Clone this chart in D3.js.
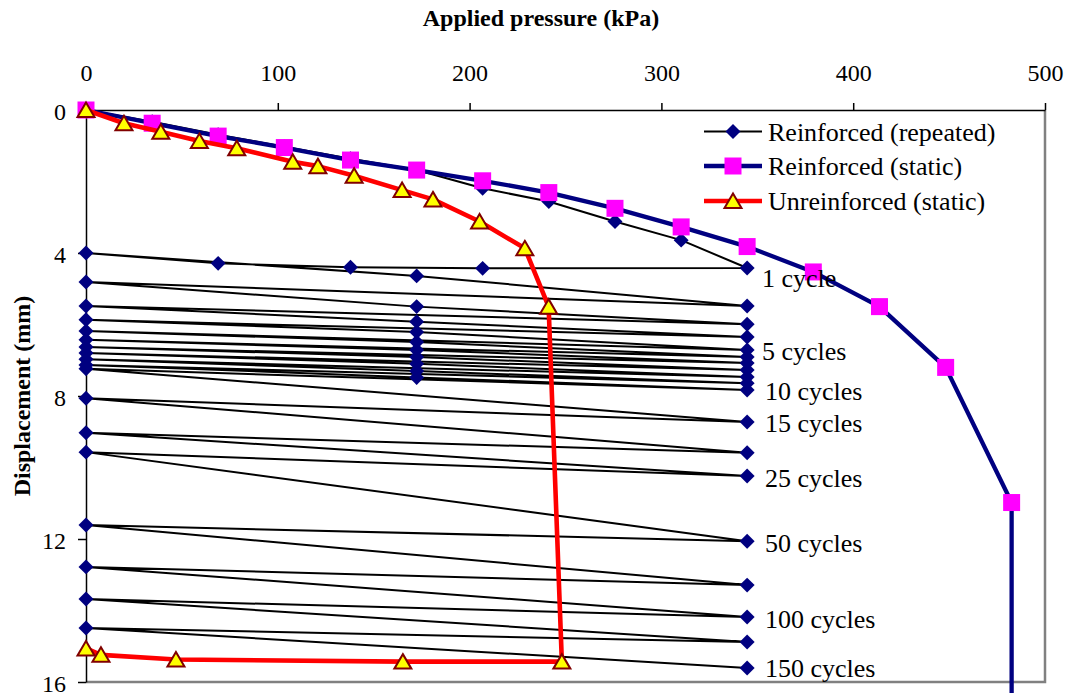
<!DOCTYPE html>
<html>
<head>
<meta charset="utf-8">
<script src="https://cdn.jsdelivr.net/npm/d3@7"></script>
<style>
    body { margin: 0; background: #fff; }
    svg { display: block; }
    svg text { font-family: "Liberation Serif", "Times New Roman", serif; }
</style>
</head>
<body>
<svg id="chart"></svg>
<script>
// ---- data ----
var xTicks = [0, 100, 200, 300, 400, 500];
var yTicks = [0, 4, 8, 12, 16];

// Reinforced (static)
var staticP = [0, 34.5, 68.9, 103.4, 137.9, 172.4, 206.8, 241.3, 275.8, 310.3, 344.7, 379.2, 413.7, 448.2, 482.6, 482.6];
var staticD = [0, 0.37, 0.73, 1.05, 1.40, 1.68, 1.98, 2.31, 2.75, 3.27, 3.82, 4.53, 5.50, 7.20, 10.98, 17];

// Unreinforced (static)
var unreinfP = [0, 19.8, 39.0, 59.1, 78.6, 107.8, 120.9, 139.8, 164.8, 180.9, 205.2, 228.8, 241.2, 248.1, 165.2, 46.9, 7.8, 0];
var unreinfD = [0, 0.37, 0.61, 0.87, 1.07, 1.45, 1.57, 1.84, 2.24, 2.50, 3.12, 3.87, 5.50, 15.43, 15.43, 15.37, 15.24, 15.06];

// Reinforced (repeated): first loading + first unloading
var firstLoadP = [0, 34.5, 68.9, 103.4, 137.9, 172.4, 206.8, 241.3, 275.8, 310.3, 344.7];
var firstLoadD = [0, 0.33, 0.69, 1.03, 1.36, 1.68, 2.19, 2.56, 3.12, 3.64, 4.42];
var firstUnloadP = [206.8, 137.9, 68.9, 0];
var firstUnloadD = [4.43, 4.40, 4.29, 4.00];
// later cycles: reload through mid pressure (early cycles only) to peak, unload to zero
var peakLoad = 344.7;
var midLoad = 172.4;
var cycleMidD = [4.64, 5.50, 5.92, 6.21, 6.49, 6.71, 6.91, 7.10, 7.30, 7.48];
var cyclePeakD = [5.48, 5.99, 6.35, 6.71, 6.91, 7.08, 7.27, 7.47, 7.64, 7.83, 8.73, 9.59, 10.24, 12.06, 13.29, 14.18, 14.88, 15.61];
var residualD = [4.81, 5.48, 5.87, 6.18, 6.43, 6.63, 6.80, 6.97, 7.13, 7.24, 8.06, 9.03, 9.57, 11.61, 12.78, 13.68, 14.49];

// cycle annotations (text and the displacement they sit at)
var cycleLabels = ["1 cycle", "5 cycles", "10 cycles", "15 cycles", "25 cycles", "50 cycles", "100 cycles", "150 cycles"];
var cycleLabelD = [4.96, 6.99, 8.11, 9.00, 10.54, 12.36, 14.48, 15.85];

var seriesNames = ["Reinforced (repeated)", "Reinforced (static)", "Unreinforced (static)"];

// ---- build point lists ----
function zipPts(p, d) {
    return p.map(function (v, i) { return {p: v, d: d[i]}; });
}
var staticPts = zipPts(staticP, staticD);
var unreinfPts = zipPts(unreinfP, unreinfD);
var repeatedPts = zipPts(firstLoadP, firstLoadD).concat(zipPts(firstUnloadP, firstUnloadD));
cyclePeakD.forEach(function (pk, i) {
    if (i < cycleMidD.length) repeatedPts.push({p: midLoad, d: cycleMidD[i]});
    repeatedPts.push({p: peakLoad, d: pk});
    if (i < residualD.length) repeatedPts.push({p: 0, d: residualD[i]});
});

// ---- layout ----
var W = 1070, H = 693;
var SERIF = "'Liberation Serif', 'Times New Roman', serif";
var svg = d3.select("#chart").attr("width", W).attr("height", H);

var x = d3.scaleLinear().domain([0, 500]).range([86, 1045]);
var y = d3.scaleLinear().domain([0, 16]).range([110, 682]);

// plot border (right + bottom, grey)
svg.append("path")
    .attr("d", "M" + x(500) + "," + y(0) + "V" + y(16) + "H" + x(0))
    .attr("fill", "none")
    .attr("stroke", "#808080")
    .attr("stroke-width", 2.5);

// axes
var xAxis = svg.append("g")
    .attr("transform", "translate(0," + y(0) + ")")
    .call(d3.axisTop(x).tickValues(xTicks).tickSize(7).tickPadding(22).tickSizeOuter(0));
var yAxis = svg.append("g")
    .attr("transform", "translate(" + x(0) + ",0)")
    .call(d3.axisLeft(y).tickValues(yTicks).tickSize(8).tickPadding(12).tickSizeOuter(0));

[xAxis, yAxis].forEach(function (g) {
    g.attr("font-family", SERIF).attr("font-size", 24);
    g.selectAll("path, line").attr("stroke", "#000").attr("stroke-width", 1.5);
    g.selectAll("text")
        .attr("fill", "#000")
        .style("font-family", SERIF)
        .style("font-size", "24px");
});
yAxis.selectAll("text").attr("dy", "0.4em");

// axis titles
svg.append("text")
    .attr("x", 541).attr("y", 26)
    .attr("text-anchor", "middle")
    .style("font-family", SERIF)
    .style("font-weight", "bold").style("font-size", "24px")
    .text("Applied pressure (kPa)");
svg.append("text")
    .attr("transform", "translate(30,396) rotate(-90)")
    .attr("text-anchor", "middle")
    .style("font-family", SERIF)
    .style("font-weight", "bold").style("font-size", "24px")
    .text("Displacement (mm)");

var line = d3.line()
    .x(function (d) { return x(d.p); })
    .y(function (d) { return y(d.d); });

var diamond = d3.symbol().type(d3.symbolSquare).size(112);
var square = d3.symbol().type(d3.symbolSquare).size(289);
var triPath = "M0,-7.5L8.5,7L-8.5,7Z";

// Reinforced (repeated)
svg.append("path")
    .datum(repeatedPts)
    .attr("d", line)
    .attr("fill", "none")
    .attr("stroke", "#000")
    .attr("stroke-width", 2)
    .attr("stroke-linejoin", "round");
svg.selectAll(".dia")
    .data(repeatedPts)
    .enter().append("path")
    .attr("class", "dia")
    .attr("d", diamond)
    .attr("transform", function (d) { return "translate(" + x(d.p) + "," + y(d.d) + ") rotate(45)"; })
    .attr("fill", "#000080");

// Reinforced (static)
svg.append("path")
    .datum(staticPts)
    .attr("d", line)
    .attr("fill", "none")
    .attr("stroke", "#000080")
    .attr("stroke-width", 4.3)
    .attr("stroke-linejoin", "round");
svg.selectAll(".sq")
    .data(staticPts)
    .enter().append("path")
    .attr("class", "sq")
    .attr("d", square)
    .attr("transform", function (d) { return "translate(" + x(d.p) + "," + y(d.d) + ")"; })
    .attr("fill", "#ff00ff");

// Unreinforced (static)
svg.append("path")
    .datum(unreinfPts)
    .attr("d", line)
    .attr("fill", "none")
    .attr("stroke", "#ff0000")
    .attr("stroke-width", 4.6)
    .attr("stroke-linejoin", "round");
svg.selectAll(".tri")
    .data(unreinfPts)
    .enter().append("path")
    .attr("class", "tri")
    .attr("d", triPath)
    .attr("transform", function (d) { return "translate(" + x(d.p) + "," + y(d.d) + ")"; })
    .attr("fill", "#ffff00")
    .attr("stroke", "#800000")
    .attr("stroke-width", 2);

// cycle labels
svg.selectAll(".cyc")
    .data(cycleLabels)
    .enter().append("text")
    .attr("class", "cyc")
    .attr("x", function (d, i) { return i < 2 ? 762 : 765; })
    .attr("y", function (d, i) { return y(cycleLabelD[i]); })
    .style("font-family", SERIF)
    .style("font-size", "26px")
    .text(function (d) { return d; });

// legend
var legend = svg.append("g").attr("class", "legend");
var rowY = [131.5, 166, 201];
var rows = legend.selectAll("g")
    .data(seriesNames)
    .enter().append("g")
    .attr("transform", function (d, i) { return "translate(0," + rowY[i] + ")"; });
rows.append("line")
    .attr("x1", 704).attr("x2", 762)
    .attr("stroke", function (d, i) { return ["#000", "#000080", "#ff0000"][i]; })
    .attr("stroke-width", function (d, i) { return [2, 4.3, 4.6][i]; });
rows.append("path")
    .attr("d", function (d, i) { return i === 0 ? diamond() : i === 1 ? square() : triPath; })
    .attr("transform", function (d, i) { return "translate(733,0)" + (i === 0 ? " rotate(45)" : ""); })
    .attr("fill", function (d, i) { return ["#000080", "#ff00ff", "#ffff00"][i]; })
    .attr("stroke", function (d, i) { return i === 2 ? "#800000" : "none"; })
    .attr("stroke-width", 2);
rows.append("text")
    .attr("x", 768)
    .attr("dy", "0.36em")
    .style("font-family", SERIF)
    .style("font-size", "26px")
    .text(function (d) { return d; });
</script>
</body>
</html>
